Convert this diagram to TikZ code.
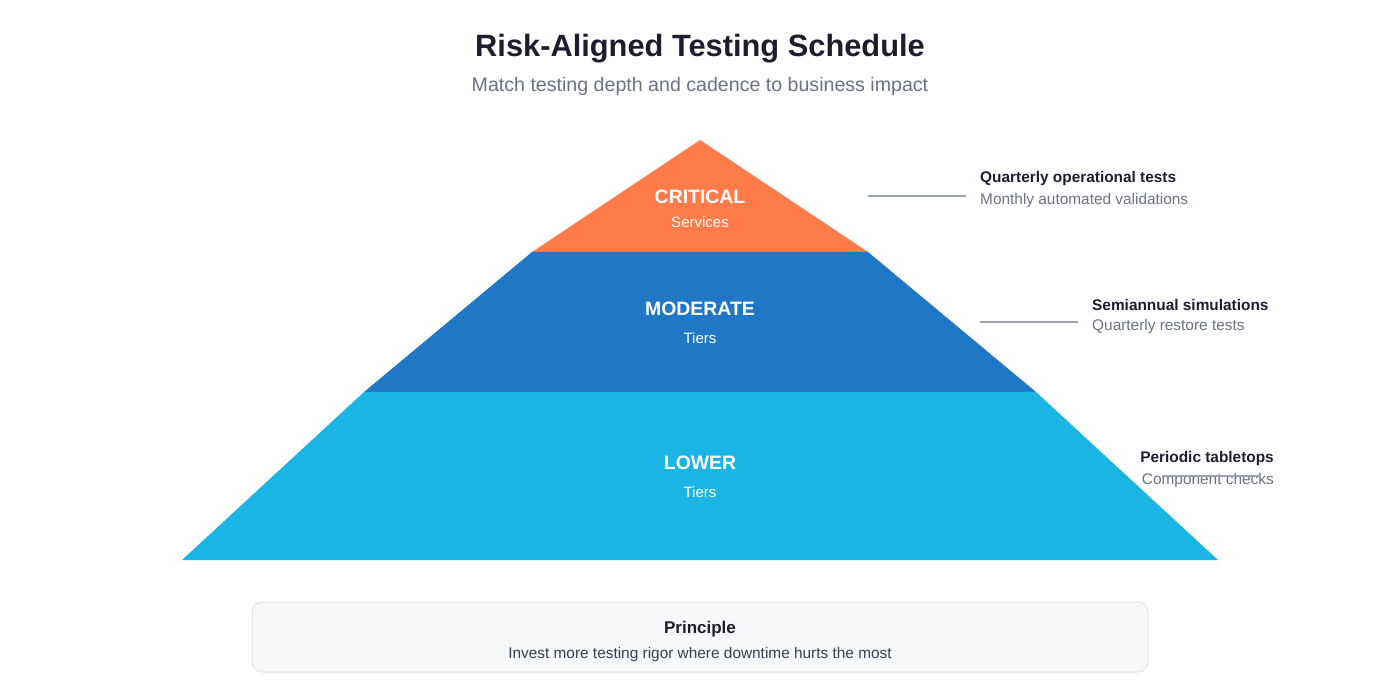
\documentclass[tikz,border=0pt]{standalone}
\usepackage{fontspec}
\setmainfont{Liberation Sans}
\usepackage{tikz}
\usetikzlibrary{positioning}

\definecolor{critorange}{HTML}{FF7B4A}
\definecolor{modblue}{HTML}{1F77C6}
\definecolor{lowblue}{HTML}{1BB5E5}
\definecolor{inkdark}{HTML}{1E1D30}
\definecolor{inkgray}{HTML}{6B7280}
\definecolor{inkbody}{HTML}{374151}
\definecolor{leadergray}{HTML}{9CA3AF}
\definecolor{boxfill}{HTML}{F7F8FA}
\definecolor{boxline}{HTML}{E3E5E9}

\begin{document}
\begin{tikzpicture}[
                x=1pt, y=-1pt,
                tier/.style={text=white, font=\bfseries\fontsize{19.4}{22}\selectfont, inner sep=0pt},
                tiersub/.style={text=white, font=\fontsize{15}{18}\selectfont, inner sep=0pt},
                notehead/.style={text=inkdark, font=\bfseries\fontsize{15.4}{18}\selectfont, inner sep=0pt, anchor=west},
                notesub/.style={text=inkgray, font=\fontsize{15.4}{18}\selectfont, inner sep=0pt, anchor=west},
                leader/.style={draw=leadergray, line width=1.5pt}
            ]
                \useasboundingbox (0,0) rectangle (1400,700);

                \node[text=inkdark, font=\bfseries\fontsize{30.8}{34}\selectfont] (title) at (700,49) {Risk-Aligned Testing Schedule};
                \node[text=inkgray, font=\fontsize{19.6}{22}\selectfont] (subtitle) at (700,86) {Match testing depth and cadence to business impact};

                % pyramid bands
                \fill[critorange] (700,140) -- (868,252) -- (532,252) -- cycle;
                \fill[modblue] (532,252) -- (868,252) -- (1036,392) -- (364,392) -- cycle;
                \fill[lowblue] (364,392) -- (1036,392) -- (1218,560) -- (182,560) -- cycle;

                \node[tier] (crit) at (700,197) {CRITICAL};
                \node[tiersub] (critsub) at (700,222) {Services};
                \node[tier] (mod) at (700,309) {MODERATE};
                \node[tiersub] (modsub) at (700,338) {Tiers};
                \node[tier] (low) at (700,463) {LOWER};
                \node[tiersub] (lowsub) at (700,492) {Tiers};

                % side notes
                \coordinate (critA) at (868,196);
                \coordinate (critB) at (966,196);
                \node[notehead] (critnote) at (980,179) {Quarterly operational tests};
                \node[notesub] (critnotesub) at (980,201) {Monthly automated validations};
                \draw[leader] (critA) -- (critB);

                \coordinate (modA) at (980,322);
                \coordinate (modB) at (1078,322);
                \node[notehead] (modnote) at (1092,305) {Semiannual simulations};
                \node[notesub] (modnotesub) at (1092,327) {Quarterly restore tests};
                \draw[leader] (modA) -- (modB);

                \coordinate (lowA) at (1162,476);
                \coordinate (lowB) at (1260,476);
                \node[notehead, anchor=east] (lownote) at (1274,459) {Periodic tabletops};
                \node[notesub, anchor=east] (lownotesub) at (1274,481) {Component checks};
                \draw[leader] (lowA) -- (lowB);

                % principle box
                \node[draw=boxline, fill=boxfill, line width=1pt, rounded corners=10pt, minimum width=896pt, minimum height=70pt] (principle) at (700,637) {};
                \node[text=inkdark, font=\bfseries\fontsize{17}{20}\selectfont] (principlehead) at (700,629) {Principle};
                \node[text=inkbody, font=\fontsize{15.4}{18}\selectfont] (principletext) at (700,655) {Invest more testing rigor where downtime hurts the most};
            \end{tikzpicture}
\end{document}
